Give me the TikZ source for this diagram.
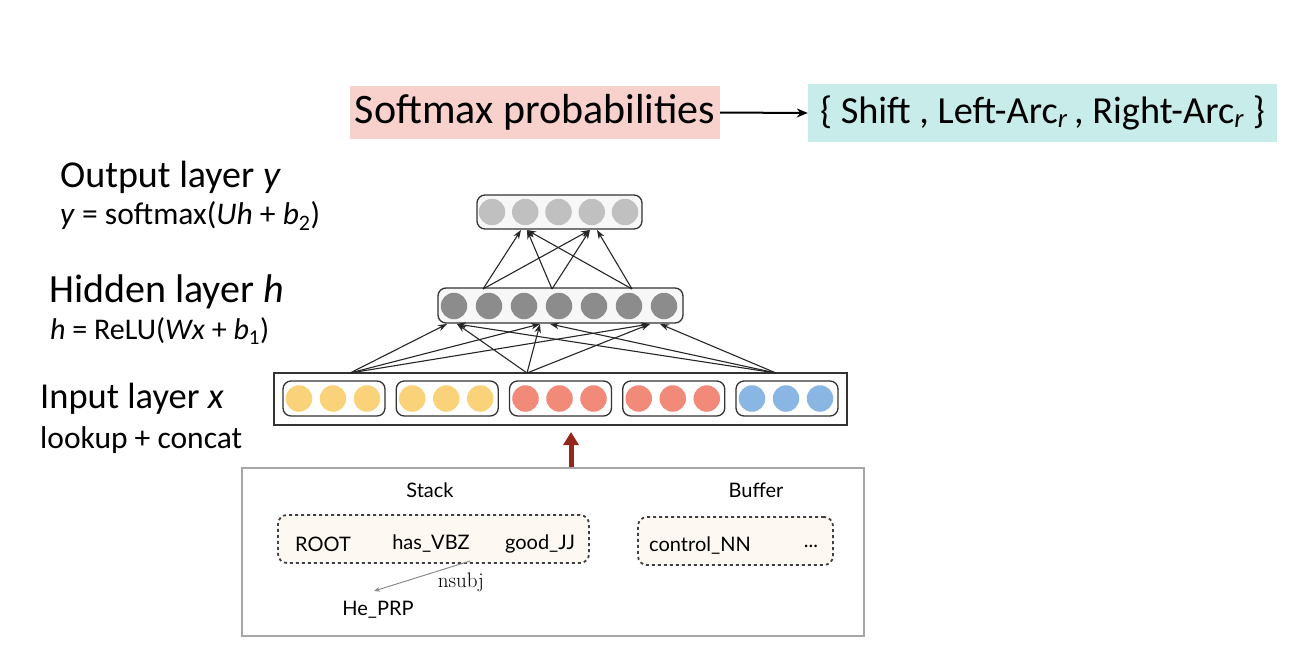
\documentclass[tikz,border=0pt]{standalone}
\usepackage{fontspec}
\setmainfont{Carlito}
\newfontfamily\bxfont{Lato}
\usetikzlibrary{arrows.meta}
\definecolor{pinkbg}{RGB}{248,208,204}
\definecolor{cyanbg}{RGB}{200,236,234}
\definecolor{yel}{RGB}{249,210,122}
\definecolor{redc}{RGB}{242,138,122}
\definecolor{bluec}{RGB}{138,182,228}
\definecolor{hid}{RGB}{140,140,140}
\definecolor{outc}{RGB}{192,192,192}
\definecolor{darkred}{RGB}{150,38,28}
\definecolor{cream}{RGB}{253,248,242}
\begin{document}
\begin{tikzpicture}[x=1pt,y=-1pt,
  layerbox/.style={draw=black!80, line width=1.3pt, rounded corners=8pt, fill=black!3, inner sep=0pt},
  unit/.style={circle, minimum size=26.5pt, inner sep=0pt},
  conn/.style={draw=black!85, line width=1.1pt, -{Stealth[length=9pt,width=6.5pt]}},
  lbl/.style={anchor=west, inner sep=0pt},
  bx/.style={font=\bxfont\fontsize{20}{23}\selectfont, inner sep=0pt},
  dashbox/.style={draw=black!75, line width=1.8pt, dash pattern=on 3pt off 3pt, rounded corners=9pt, fill=cream, inner sep=0pt}
]
\useasboundingbox (0,0) rectangle (1296,662);

% top
\node[fill=pinkbg, minimum width=370pt, minimum height=53pt, inner sep=0pt,
      font=\fontsize{42}{46}\selectfont] (soft) at (535,112.5) {Softmax probabilities};
\node[fill=cyanbg, minimum width=469pt, minimum height=58pt, inner sep=0pt,
      font=\fontsize{38.3}{42}\selectfont] (acts) at (1042.5,113) {\{ Shift , Left-Arc\textsubscript{\textit{r}}\,, Right-Arc\textsubscript{\textit{r}} \}};
\draw[line width=2pt, -{Stealth[length=11pt,width=9pt]}] (soft.east) -- (acts.west);

% left labels
\node[lbl, font=\fontsize{38}{42}\selectfont] (lo) at (60,177) {Output layer \textit{y}};
\node[lbl, font=\fontsize{31.5}{35}\selectfont] (eo) at (60,216) {\textit{y} = softmax(\textit{Uh} + \textit{b}\textsubscript{2})};
\node[lbl, font=\fontsize{40}{44}\selectfont] (lh) at (49,292) {Hidden layer \textit{h}};
\node[lbl, font=\fontsize{30}{34}\selectfont] (eh) at (50,331) {\textit{h} = ReLU(\textit{Wx} + \textit{b}\textsubscript{1})};
\node[lbl, font=\fontsize{36.5}{40}\selectfont] (li) at (40,399) {Input layer \textit{x}};
\node[lbl, font=\fontsize{31.5}{35}\selectfont] (ei) at (40,440) {lookup + concat};

% output layer
\node[layerbox, minimum width=165pt, minimum height=34pt] (obox) at (559.5,212) {};
\foreach \k in {0,...,4}
  \node[unit, fill=outc] (o\k) at (492+33.25*\k,212) {};

% hidden layer
\node[layerbox, minimum width=245pt, minimum height=35pt] (hbox) at (560.5,305.5) {};
\foreach \k in {0,...,6}
  \node[unit, fill=hid] (h\k) at (454+35*\k,306) {};

% input layer
\node[draw=black!80, line width=1.3pt, fill=white, minimum width=573pt, minimum height=52pt, inner sep=0pt] (ibox) at (560.5,399) {};
\foreach \k/\c in {0/yel,1/yel,2/redc,3/redc,4/bluec} {
  \node[layerbox, fill=white, minimum width=102pt, minimum height=35pt] (g\k) at (283+113.25*\k+51,398.5) {};
  \foreach \j/\d in {0/16,1/50,2/84}
    \node[unit, fill=\c] (g\k u\j) at (283+113.25*\k+\d,398.5) {};
}

% connection points
\coordinate (is1) at (350,373);
\coordinate (is2) at (527,373);
\coordinate (is3) at (776,373);
\coordinate (ht1a) at (447,324);
\coordinate (ht1b) at (457,324);
\coordinate (ht2a) at (540,324);
\coordinate (ht2b) at (550,324);
\coordinate (ht3a) at (650,324);
\coordinate (ht3b) at (660,324);
\coordinate (hs1) at (483,289);
\coordinate (hs2) at (552,289);
\coordinate (hs3) at (632,289);
\coordinate (ot1a) at (521,230);
\coordinate (ot1b) at (527,230);
\coordinate (ot2a) at (590,230);
\coordinate (ot2b) at (597,230);

\draw[conn] (is1) -- (ht1a);
\draw[conn] (is1) -- (ht2a);
\draw[conn] (is1) -- (ht3a);
\draw[conn] (is2) -- (ht1b);
\draw[conn] (is2) -- (ht2a);
\draw[conn] (is2) -- (ht3a);
\draw[conn] (is3) -- (ht1b);
\draw[conn] (is3) -- (ht2b);
\draw[conn] (is3) -- (ht3b);

\draw[conn] (hs1) -- (ot1a);
\draw[conn] (hs1) -- (ot2a);
\draw[conn] (hs2) -- (ot1b);
\draw[conn] (hs2) -- (ot2a);
\draw[conn] (hs3) -- (ot1b);
\draw[conn] (hs3) -- (ot2b);

% bottom box
\node[draw=black!35, line width=1.5pt, minimum width=622pt, minimum height=168pt, inner sep=0pt] (conf) at (553,552) {};
\draw[darkred, line width=5pt, -{Triangle[length=13pt,width=15pt]}] (conf.north -| 571,0) -- (571,432);

\node[bx] (stk) at (430,490) {Stack};
\node[bx] (buf) at (756,490) {Buffer};
\node[dashbox, minimum width=311pt, minimum height=48pt] (sbox) at (433.5,539) {};
\node[dashbox, minimum width=195pt, minimum height=48pt] (bbox) at (735.5,541) {};
\node[bx] (root) at (323,544) {ROOT};
\node[bx] (has) at (431,544) {has\_VBZ};
\node[bx] (good) at (540,544) {good\_JJ};
\node[bx] (ctrl) at (700,546) {control\_NN};
\node[bx] (dots) at (811,546) {...};
\node[bx] (he) at (378,610) {He\_PRP};
\node[font=\fontsize{21}{24}\selectfont, inner sep=0pt] (ns) at (461,582) {\fontspec{Latin Modern Roman}nsubj};
\coordinate (nsA) at (470,561);
\coordinate (nsB) at (374,591);
\draw[black!45, line width=1pt, -{Stealth[length=6pt,width=5pt]}] (nsA) -- (nsB);
\end{tikzpicture}
\end{document}
